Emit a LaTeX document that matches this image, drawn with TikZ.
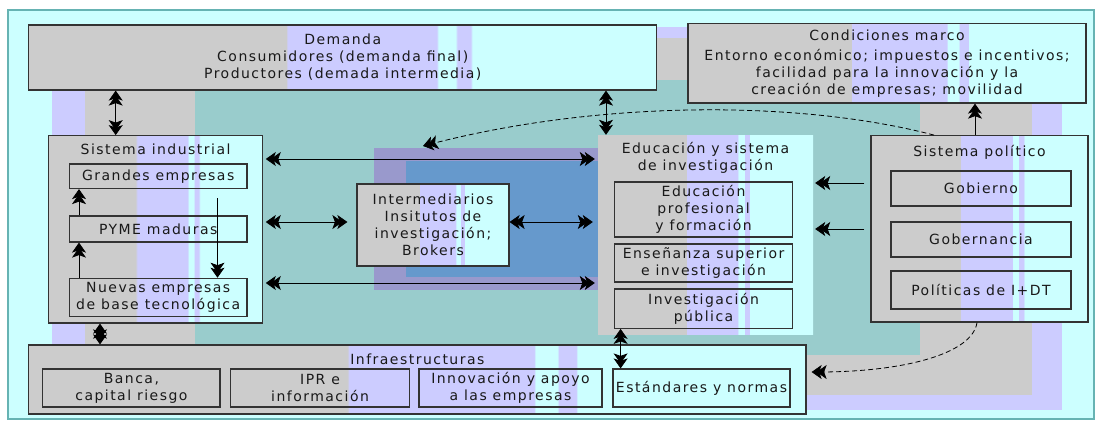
\documentclass[tikz,border=0pt]{standalone}
\usepackage{fontspec}
\setmainfont{DejaVu Sans}[LetterSpace=10.5]
\usetikzlibrary{arrows.meta}

\definecolor{bgray}{HTML}{CCCCCC}
\definecolor{blav}{HTML}{CCCCFF}
\definecolor{bcyan}{HTML}{CCFFFF}
\definecolor{bteal}{HTML}{99CCCC}
\definecolor{bpurp}{HTML}{9999CC}
\definecolor{bblue}{HTML}{6699CC}
\definecolor{bframe}{HTML}{66B3B3}

\pgfdeclarehorizontalshading{band}{100bp}{color(0bp)=(bgray); color(45.5bp)=(bgray);
  color(45.6bp)=(blav); color(57.5bp)=(blav); color(57.6bp)=(bcyan); color(59bp)=(bcyan);
  color(59.1bp)=(blav); color(60.2bp)=(blav); color(60.3bp)=(bcyan); color(100bp)=(bcyan)}

\tikzset{
  hd/.tip={Stealth[length=10pt,width=14pt,inset=2.5pt,sep=-5pt]Stealth[length=10pt,width=14pt,inset=2.5pt]},
  bigbox/.style={draw=black!80, line width=1.2pt, shade, shading=band, inner sep=0pt},
  subbox/.style={draw=black!80, line width=1.2pt, inner sep=0pt, align=center},
  ttl/.style={align=center, inner sep=0pt},
  link/.style={line width=0.8pt, hd-hd},
  oneway/.style={line width=0.8pt, -hd},
  dashlink/.style={line width=0.8pt, dash pattern=on 5pt off 3pt, -hd}
}

\begin{document}
\begin{tikzpicture}[x=1pt, y=-1pt, every node/.style={font=\fontsize{14}{17}\selectfont, text=black!90}]
\useasboundingbox (0,0) rectangle (1098,421);
\fill[white] (0,0) rectangle (1098,421);
% background
\filldraw[fill=bcyan, draw=bframe, line width=1.5pt] (8,10) rectangle (1094,419);
\fill[blav] (52,27) rectangle (1062,410);
\fill[bgray] (85,38) rectangle (1032,395);
\fill[bteal] (195,80) rectangle (920,355);
\fill[bpurp] (374,148) rectangle (598,290);
\fill[bblue] (406,161) rectangle (598,277);

% top row
\node[bigbox, minimum width=627.9, minimum height=65, align=center] (dem) at (342.75,57.5)
  {Demanda\\Consumidores (demanda final)\\Productores (demada intermedia)};
\node[bigbox, minimum width=398, minimum height=79.7, align=center] (cond) at (887,63.2)
  {Condiciones marco\\[3pt]Entorno económico; impuestos e incentivos;\\facilidad para la innovación y la\\creación de empresas; movilidad};

% sistema industrial
\node[bigbox, minimum width=214.3, minimum height=187.3] (ind) at (155.55,229.35) {};
\node[ttl] (indtit) at (ind.north |- 0,149.3) {Sistema industrial};
\node[subbox, minimum width=177.6, minimum height=24.5] (gra) at (158.2,176.25) {Grandes empresas};
\node[subbox, minimum width=177.6, minimum height=26] (pym) at (158.2,229) {PYME maduras};
\node[subbox, minimum width=177.6, minimum height=38.4] (nue) at (158.2,297.5) {Nuevas empresas\\de base tecnológica};

% intermediarios
\node[bigbox, minimum width=152, minimum height=82, align=center] (inter) at (433,225)
  {Intermediarios\\Insitutos de\\investigación;\\Brokers};

% educacion
\node[shade, shading=band, minimum width=215, minimum height=199, inner sep=0pt] (edu) at (705.5,234.5) {};
\node[ttl] (edutit) at (edu.north |- 0,158) {Educación y sistema\\de investigación};
\node[subbox, minimum width=177.9, minimum height=55] (prof) at (703.55,209.5) {Educación\\profesional\\y formación};
\node[subbox, minimum width=177.9, minimum height=38] (ens) at (703.55,263) {Enseñanza superior\\e investigación};
\node[subbox, minimum width=177.9, minimum height=39.3] (inv) at (703.55,308.65) {Investigación\\pública};

% sistema politico
\node[bigbox, minimum width=217, minimum height=186.3] (pol) at (979.5,228.85) {};
\node[ttl] (poltit) at (pol.north |- 0,152.7) {Sistema político};
\node[subbox, minimum width=180, minimum height=35] (gob) at (981,188.5) {Gobierno};
\node[subbox, minimum width=180, minimum height=35] (gbn) at (981,239.5) {Gobernancia};
\node[subbox, minimum width=180, minimum height=38] (pid) at (981,290) {Políticas de I+DT};

% infraestructuras
\node[bigbox, minimum width=777.2, minimum height=69] (infra) at (417.4,379.5) {};
\node[ttl] (infratit) at (infra.north |- 0,359) {Infraestructuras};
\node[subbox, minimum width=177.2, minimum height=38] (ban) at (131.4,388) {Banca,\\capital riesgo};
\node[subbox, minimum width=179.3, minimum height=38] (ipr) at (320.05,388) {IPR e\\información};
\node[subbox, minimum width=183, minimum height=38] (ino) at (510.5,388) {Innovación y apoyo\\a las empresas};
\node[subbox, minimum width=177, minimum height=38] (est) at (701.5,388) {Estándares y normas};

% connectors
\draw[link] (115.7,0 |- dem.south) -- (115.7,0 |- ind.north);
\draw[link] (606,0 |- dem.south) -- (606,0 |- edu.north);
\draw[link] (100,0 |- ind.south) -- (100,0 |- infra.north);
\draw[link] (620.6,0 |- inv.south) -- (620.6,0 |- est.north);
\foreach \y in {159,283} {
  \draw[link, shorten <=2.5pt, shorten >=3pt] (ind.east |- 0,\y) -- (edu.west |- 0,\y);
}
\draw[link, shorten <=2.5pt, shorten >=9pt] (ind.east |- 0,222) -- (inter.west |- 0,222);
\draw[link, shorten >=5pt] (inter.east |- 0,222) -- (edu.west |- 0,222);
\foreach \y in {183,229} {
  \draw[oneway, shorten <=6pt, shorten >=2pt] (pol.west |- 0,\y) -- (edu.east |- 0,\y);
}
\draw[oneway] (975,0 |- pol.north) -- (975,0 |- cond.south);
\draw[oneway] (79,0 |- nue.north) -- (79,0 |- pym.south);
\draw[oneway] (79,0 |- pym.north) -- (79,0 |- gra.south);
\coordinate (dn) at (217.5,198);
\draw[oneway] (dn) -- (dn |- nue.north);
\coordinate (brk) at (423,146);
\draw[dashlink] (934,0 |- pol.north) .. controls (800,100) and (600,100) .. (brk);
\draw[dashlink, shorten >=5pt] (977,0 |- pol.south) .. controls (972,355) and (900,372) .. (infra.east |- 0,372);
\end{tikzpicture}
\end{document}
